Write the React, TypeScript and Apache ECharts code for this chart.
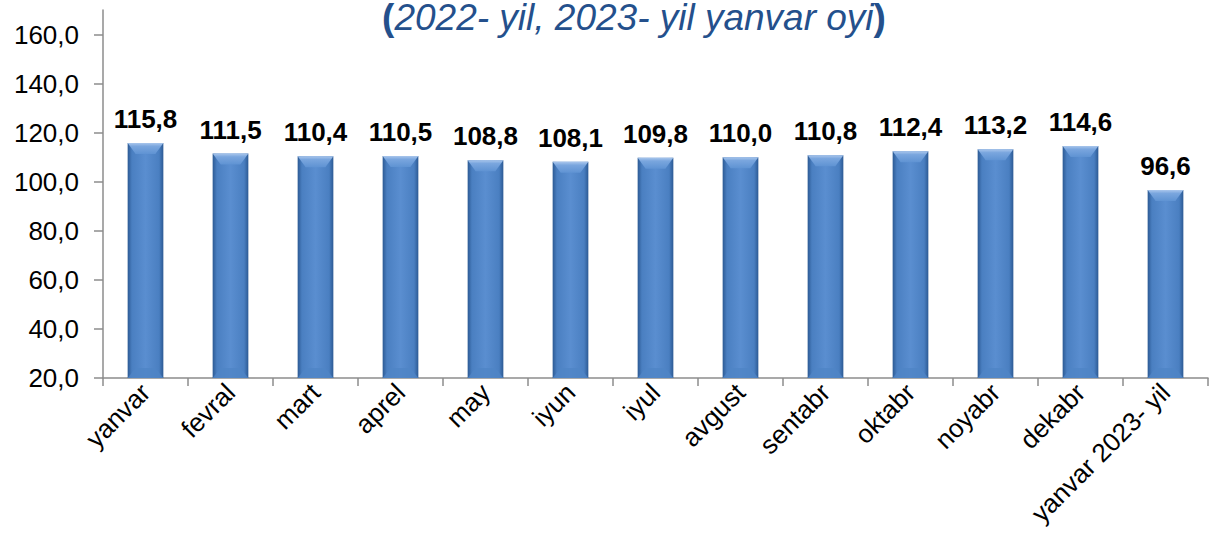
import React, { useEffect, useRef } from "react";
import * as echarts from "echarts";

const categories = [
  "yanvar", "fevral", "mart", "aprel", "may", "iyun", "iyul",
  "avgust", "sentabr", "oktabr", "noyabr", "dekabr", "yanvar 2023- yil",
];
const values = [115.8, 111.5, 110.4, 110.5, 108.8, 108.1, 109.8, 110.0, 110.8, 112.4, 113.2, 114.6, 96.6];
const yTicks = [20, 40, 60, 80, 100, 120, 140, 160];
const titleText = "2022- yil, 2023- yil yanvar oyi";

const FONT = "'Liberation Sans', Arial, sans-serif";
const fmt = (v: number) => v.toFixed(1).replace(".", ",");

export default function App() {
  const ref = useRef<HTMLDivElement>(null);
  useEffect(() => {
    if (!ref.current) return;
    const chart = echarts.init(ref.current, undefined, { renderer: "svg" });
    const option: any = {
      animation: false,
      backgroundColor: "#ffffff",
      grid: { left: 103, right: 3, top: 10, bottom: 172, containLabel: false },
      xAxis: {
        type: "category",
        data: categories,
        boundaryGap: true,
        axisLine: { show: true, lineStyle: { color: "#8c8c8c", width: 1.5 } },
        axisTick: { show: true, length: 8, alignWithLabel: false, lineStyle: { color: "#8c8c8c", width: 1.5 } },
        axisLabel: {
          rotate: 45,
          interval: 0,
          margin: 10,
          color: "#000",
          fontSize: 26,
          fontFamily: FONT,
        },
        splitLine: { show: false },
      },
      yAxis: {
        type: "value",
        min: 20,
        max: 170,
        interval: 10,
        axisLine: { show: true, lineStyle: { color: "#8c8c8c", width: 1.5 } },
        axisTick: { show: true, length: 9, customValues: yTicks, lineStyle: { color: "#8c8c8c", width: 1.5 } },
        axisLabel: {
          color: "#000",
          fontSize: 26,
          fontFamily: FONT,
          margin: 24,
          customValues: yTicks,
          formatter: (v: number) => fmt(v),
        },
        splitLine: { show: false },
      },
      series: [
        {
          type: "custom",
          data: values.map((v, i) => [i, v]),
          encode: { x: 0, y: 1 },
          clip: false,
          renderItem: (params: any, api: any) => {
            const idx = api.value(0);
            const v = api.value(1);
            const top = api.coord([idx, v]);
            const base = api.coord([idx, 20]);
            const bw = api.size([1, 0])[0] * 0.42;
            const x = top[0] - bw / 2;
            const y = top[1];
            const h = base[1] - top[1];
            const bev = 8;
            return {
              type: "group",
              children: [
                {
                  type: "rect",
                  shape: { x, y, width: bw, height: h },
                  style: {
                    fill: new echarts.graphic.LinearGradient(0, 0, 1, 0, [
                      { offset: 0, color: "#2c5a94" },
                      { offset: 0.12, color: "#4a7fc1" },
                      { offset: 0.5, color: "#5a8ed0" },
                      { offset: 0.88, color: "#4a7fc1" },
                      { offset: 1, color: "#2c5a94" },
                    ]),
                  },
                },
                {
                  type: "polygon",
                  shape: {
                    points: [
                      [x, y],
                      [x + bw, y],
                      [x + bw - bev, y + 11],
                      [x + bev, y + 11],
                    ],
                  },
                  style: {
                    fill: new echarts.graphic.LinearGradient(0, 0, 0, 1, [
                      { offset: 0, color: "#a9c6ec" },
                      { offset: 0.3, color: "#7aa6de" },
                      { offset: 1, color: "#5f93d3" },
                    ]),
                  },
                },
                {
                  type: "polygon",
                  shape: {
                    points: [
                      [x, base[1]],
                      [x + bw, base[1]],
                      [x + bw - bev, base[1] - 10],
                      [x + bev, base[1] - 10],
                    ],
                  },
                  style: { fill: "#4f84c6", opacity: 0.8 },
                },
                {
                  type: "text",
                  style: {
                    text: fmt(v),
                    x: top[0],
                    y: y - 11,
                    align: "center",
                    verticalAlign: "bottom",
                    fill: "#000",
                    font: `bold 26px ${FONT}`,
                  },
                },
              ],
            };
          },
        },
      ],
      graphic: [
        {
          type: "text",
          z: 101,
          x: 634,
          y: 17,
          style: {
            text: `{p|(}{t|${titleText}}{p|)}`,
            align: "center",
            verticalAlign: "middle",
            rich: {
              p: { fontSize: 37, fontWeight: "bold", fontFamily: FONT, fill: "#24508c", color: "#24508c" },
              t: { fontSize: 37, fontStyle: "italic", fontFamily: FONT, fill: "#24508c", color: "#24508c" },
            },
          },
        },
      ],
    };
    chart.setOption(option);
    return () => chart.dispose();
  }, []);
  return <div ref={ref} style={{ width: 1211, height: 550, position: "absolute", left: 0, top: 0 }} />;
}
